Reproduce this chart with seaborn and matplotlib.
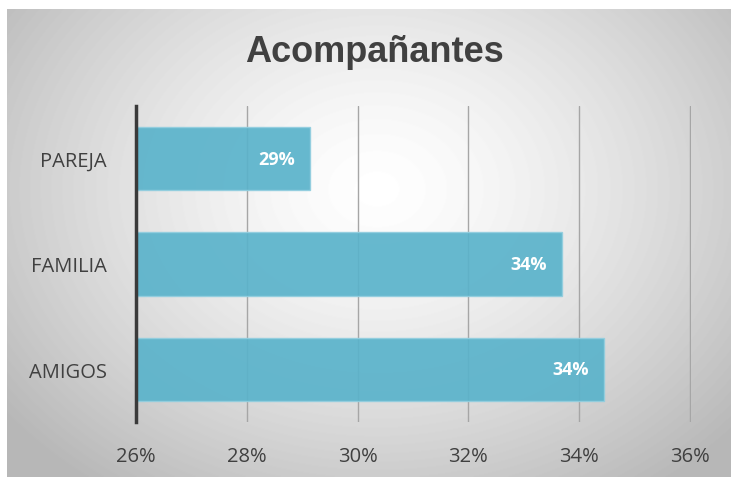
import numpy as np
import pandas as pd
import matplotlib.pyplot as plt
import seaborn as sns

categorias = ['PAREJA', 'FAMILIA', 'AMIGOS']
porcentajes = [29.15, 33.7, 34.45]
etiquetas = ['29%', '34%', '34%']
ticks_x = [26, 28, 30, 32, 34, 36]

df = pd.DataFrame({'categoria': categorias, 'valor': porcentajes})

sns.set_style('white')
plt.rcParams['font.family'] = ['Open Sans', 'DejaVu Sans']

fig = plt.figure(figsize=(7.33, 4.81), dpi=100)

# fondo con degradado radial dentro del marco
bg = fig.add_axes([7 / 733, 1 - 478 / 481, 724 / 733, 468 / 481])
yy, xx = np.mgrid[0:468, 0:724]
r = np.sqrt(((xx - 370) / 420.0) ** 2 + ((yy - 180) / 330.0) ** 2)
g = np.clip(1.0 - 0.24 * r ** 1.4, 0.72, 1.0)
bg.imshow(g, cmap='gray', vmin=0, vmax=1, aspect='auto', extent=[0, 1, 0, 1])
bg.set_axis_off()

ax = fig.add_axes([136 / 733, 1 - 423 / 481, 555 / 733, 316 / 481])
ax.patch.set_alpha(0)
sns.barplot(data=df, x='valor', y='categoria', orient='h', color='#5AB3CB',
            saturation=1, width=0.6, alpha=0.92, edgecolor='#92CEDF',
            linewidth=1, ax=ax, zorder=2)

ax.set_xlim(26, 36.02)
ax.set_ylim(2.5, -0.5)
ax.set_xticks(ticks_x)
ax.set_xticklabels([f'{t}%' for t in ticks_x], fontsize=14.5, color='#404040')
ax.tick_params(axis='y', labelsize=14.5, labelcolor='#404040', length=0, pad=21)
ax.tick_params(axis='x', length=0, pad=17)
ax.set_xlabel('')
ax.set_ylabel('')
ax.grid(axis='x', color='#A6A6A6', linewidth=1, zorder=1)
ax.set_axisbelow(True)
for s in ['top', 'right', 'bottom']:
    ax.spines[s].set_visible(False)
ax.spines['left'].set_color('#3A3A3A')
ax.spines['left'].set_linewidth(2.5)
ax.spines['left'].set_zorder(3)

for i, (v, t) in enumerate(zip(porcentajes, etiquetas)):
    ax.annotate(t, (v, i), xytext=(-11, 0), textcoords='offset points',
                ha='right', va='center', color='white', fontsize=13,
                fontweight='bold', zorder=4)

fig.text(374 / 733, 1 - 52 / 481, 'Acompañantes', ha='center', va='center',
         fontsize=26, fontweight='bold', color='#404040',
         family=['Liberation Sans', 'DejaVu Sans'])

fig.savefig('out.png', dpi=100)
